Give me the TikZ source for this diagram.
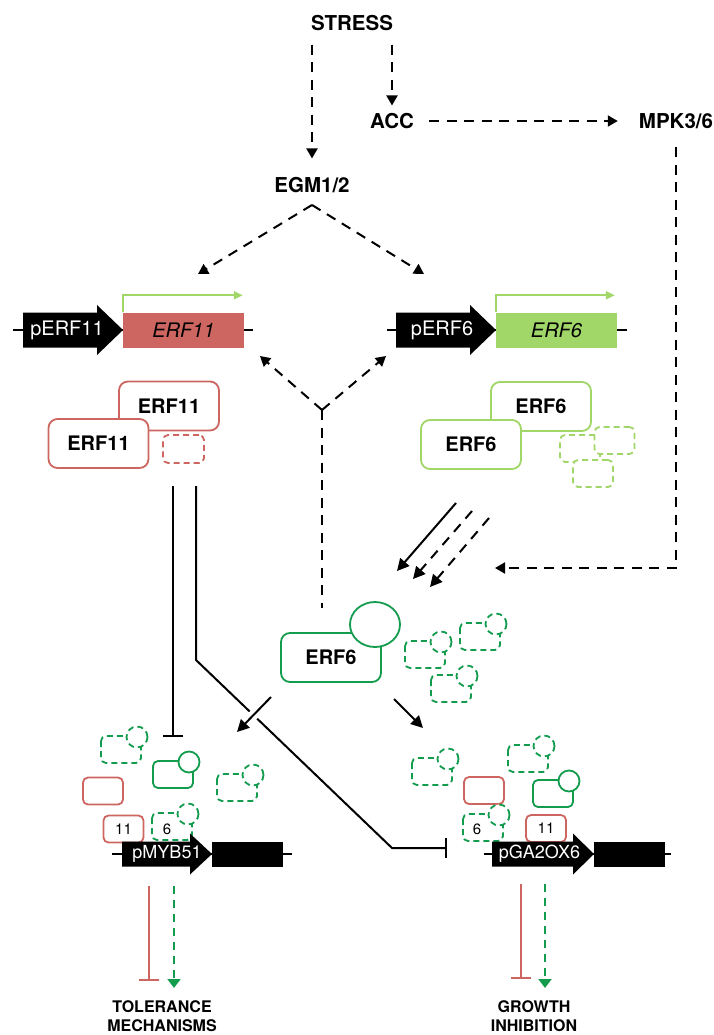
\documentclass[tikz,border=0pt]{standalone}
\usepackage{fontspec}
\setmainfont{TeX Gyre Heros}
\usetikzlibrary{arrows.meta}
\definecolor{ered}{RGB}{205,102,96}
\definecolor{lgreen}{RGB}{161,214,104}
\definecolor{dgreen}{RGB}{20,156,78}
\begin{document}
\begin{tikzpicture}[x=1pt,y=-1pt,
  lbl/.style={inner sep=0pt, font=\fontsize{20.5}{24}\selectfont\bfseries},
  dsh/.style={line width=2pt, dash pattern=on 10pt off 7.5pt},
  tri/.style={-{Triangle[length=10pt,width=11pt]}},
  bigtri/.style={-{Triangle[length=12pt,width=12pt]}},
  tbar/.style={-{Bar[width=20pt,line width=2pt]}},
  prot/.style={draw=#1, line width=1.8pt, rounded corners=9pt, fill=white, minimum width=100pt, minimum height=49pt, inner sep=0pt, font=\fontsize{20}{24}\selectfont\bfseries},
  sbox/.style={draw=#1, line width=1.8pt, rounded corners=5pt, fill=white, minimum width=40pt, minimum height=27pt, inner sep=0pt, font=\fontsize{15}{17}\selectfont},
  sdash/.style={dash pattern=on 6pt off 4pt},
  gene/.style={fill=#1, minimum width=121pt, minimum height=35pt, inner sep=0pt, font=\fontsize{20}{24}\selectfont\itshape},
  ptxt/.style={text=white, inner sep=0pt, font=\fontsize{20}{24}\selectfont},
  btxt/.style={text=white, inner sep=0pt, font=\fontsize{18}{22}\selectfont},
  small/.style={inner sep=0pt, font=\fontsize{15}{17}\selectfont},
  outlbl/.style={inner sep=0pt, align=center, font=\fontsize{16}{19}\selectfont\bfseries},
  icon/.pic={
    \draw[pic actions, rounded corners=5pt, fill=white] (0,0) rectangle (40,27);
    \draw[pic actions, fill=white] (36,1) circle[radius=10.5pt];
  }
]
\useasboundingbox (0,0) rectangle (714,1035);

% ---------- top labels ----------
\node[lbl] (stress) at (352,23) {STRESS};
\node[lbl] (acc) at (392,121) {ACC};
\node[lbl] (mpk) at (676,121) {MPK3/6};
\node[lbl] (egm) at (312,185) {EGM1/2};

\draw[dsh, tri, shorten <=13.6pt, shorten >=18.6pt] (stress.south -| egm.north) -- (egm.north);
\draw[dsh, tri, shorten <=13.6pt, shorten >=7.6pt] (stress.south -| acc.north) -- (acc.north);
\draw[dsh, tri, shorten <=15pt, shorten >=21pt] (acc.east) -- (mpk.west);

\coordinate (apex) at (312,205);
\coordinate (eg11) at (198,274);
\coordinate (eg6) at (424,274);
\draw[dsh, tri] (apex) -- (eg11);
\draw[dsh, tri] (apex) -- (eg6);

% ---------- genes ----------
\draw[line width=1.5pt] (13,330) -- (253,330);
\fill (23,312.5) -- (97,312.5) -- (97,305) -- (123,330) -- (97,355) -- (97,347.5) -- (23,347.5) -- cycle;
\node[ptxt] (p11) at (67,330) {pERF11};
\node[gene=ered] (g11) at (183.5,330) {ERF11};
\draw[lgreen, line width=1.8pt, -{Triangle[length=9pt,width=8pt]}] (g11.north west) -- ++(0,-17) -- ++(120,0);

\draw[line width=1.5pt] (387,330) -- (627,330);
\fill (396,312.5) -- (470,312.5) -- (470,305) -- (496,330) -- (470,355) -- (470,347.5) -- (396,347.5) -- cycle;
\node[ptxt] (p6) at (442,330) {pERF6};
\node[gene=lgreen] (g6) at (556.5,330) {ERF6};
\draw[lgreen, line width=1.8pt, -{Triangle[length=9pt,width=8pt]}] (g6.north west) -- ++(0,-17) -- ++(119,0);

% ---------- Y junction ----------
\coordinate (yj) at (322,410);
\coordinate (y11) at (260,356);
\coordinate (y6) at (386,356);
\coordinate (ybot) at (322,608);
\draw[dsh, tri] (yj) -- (y11);
\draw[dsh, tri] (yj) -- (y6);
\draw[dsh] (yj) -- (ybot);

% ---------- ERF11 proteins ----------
\node[prot=ered] (e11b) at (169,406) {ERF11};
\node[prot=ered] (e11f) at (98.5,443.5) {ERF11};
\node[sbox=ered, sdash, minimum width=41pt, minimum height=28pt] (e11d) at (183.5,449) {};

% ---------- ERF6 proteins ----------
\node[prot=lgreen] (e6b) at (541,406.5) {ERF6};
\node[prot=lgreen] (e6f) at (471,444.5) {ERF6};
\node[sbox=lgreen, sdash] (e6d1) at (580,448.5) {};
\node[sbox=lgreen, sdash] (e6d2) at (614.5,440.5) {};
\node[sbox=lgreen, sdash] (e6d3) at (593,473.5) {};

% ---------- MPK path ----------
\coordinate (mpkc) at (676,568);
\coordinate (mpkend) at (495,568);
\draw[dsh, tri, shorten <=18.6pt] (mpk.south) -- (mpkc) -- (mpkend);

% ---------- three parallel arrows ----------
\coordinate (pa1) at (456,503); \coordinate (pa1e) at (397,571);
\coordinate (pa2) at (472,511); \coordinate (pa2e) at (413,579);
\coordinate (pa3) at (489,518); \coordinate (pa3e) at (430,587);
\draw[line width=2pt, bigtri] (pa1) -- (pa1e);
\draw[dsh, bigtri] (pa2) -- (pa2e);
\draw[dsh, bigtri] (pa3) -- (pa3e);

% ---------- active ERF6 ----------
\node[prot=dgreen] (e6a) at (331,657.5) {ERF6};
\draw[dgreen, line width=1.8pt, fill=white] (375,624.5) ellipse[x radius=25pt, y radius=22.5pt];
\pic[draw=dgreen, line width=1.8pt, sdash] at (405,641) {icon};
\pic[draw=dgreen, line width=1.8pt, sdash] at (460,623) {icon};
\pic[draw=dgreen, line width=1.8pt, sdash] at (431,675) {icon};

% ---------- ERF11 repression lines ----------
\coordinate (l1s) at (173,486); \coordinate (l1e) at (173,737);
\coordinate (l2s) at (196,486); \coordinate (l2a) at (196,660);
\coordinate (l2b) at (392,848); \coordinate (l2e) at (447,848);
\draw[line width=2pt, tbar] (l1s) -- (l1e);
\draw[line width=2pt, tbar] (l2s) -- (l2a) -- (l2b) -- (l2e);

% ---------- ERF6 arrows to promoters ----------
\coordinate (al) at (271,697); \coordinate (ale) at (237,732);
\coordinate (ar) at (394,699); \coordinate (are) at (423,728);
\draw[white, line width=10pt, shorten <=8pt, shorten >=10pt] (al) -- (ale);
\draw[line width=2pt, bigtri] (al) -- (ale);
\draw[line width=2pt, bigtri] (ar) -- (are);

% ---------- pMYB51 cluster ----------
\pic[draw=dgreen, line width=1.8pt, sdash] at (101,736) {icon};
\pic[draw=dgreen, line width=1.8pt] at (153,761) {icon};
\node[sbox=ered] (r1) at (103,791) {};
\pic[draw=dgreen, line width=1.8pt, sdash] at (217,774) {icon};
\node[sbox=ered] (r11a) at (123.5,829) {11};
\pic[draw=dgreen, line width=1.8pt, sdash] at (152,813) {icon};
\node[small] (s6a) at (167,829) {6};
\draw[line width=1.5pt] (112,854) -- (292,854);
\fill (122,841.5) -- (190,841.5) -- (190,833.5) -- (212,854) -- (190,874.5) -- (190,866.5) -- (122,866.5) -- cycle;
\node[fill=black, minimum width=71pt, minimum height=25pt, inner sep=0pt] (myb) at (247.5,854) {};
\node[btxt] (pmyb) at (167,854) {pMYB51};

% ---------- pGA2OX6 cluster ----------
\pic[draw=dgreen, line width=1.8pt, sdash] at (412,758) {icon};
\pic[draw=dgreen, line width=1.8pt, sdash] at (508,745) {icon};
\node[sbox=ered] (r2) at (484,790.5) {};
\pic[draw=dgreen, line width=1.8pt] at (533,780) {icon};
\pic[draw=dgreen, line width=1.8pt, sdash] at (463,814) {icon};
\node[small] (s6b) at (477,829) {6};
\node[sbox=ered] (r11b) at (546,828.5) {11};
\draw[line width=1.5pt] (484,854) -- (671,854);
\fill (492,841.5) -- (573,841.5) -- (573,833.5) -- (594,854) -- (573,874.5) -- (573,866.5) -- (492,866.5) -- cycle;
\node[fill=black, minimum width=71pt, minimum height=25pt, inner sep=0pt] (ga) at (629.5,854) {};
\node[btxt] (pga) at (539.5,854) {pGA2OX6};

% ---------- outputs ----------
\node[outlbl] (tol) at (162,1016) {TOLERANCE\\MECHANISMS};
\node[outlbl] (gro) at (534,1016) {GROWTH\\INHIBITION};
\coordinate (o1r) at (149,886); \coordinate (o1re) at (149,981);
\coordinate (o1g) at (174,886); \coordinate (o1ge) at (174,988);
\coordinate (o2r) at (521,884); \coordinate (o2re) at (521,979);
\coordinate (o2g) at (545,884); \coordinate (o2ge) at (545,988);
\draw[ered, line width=2pt, tbar] (o1r) -- (o1re);
\draw[dgreen, line width=2pt, dash pattern=on 8pt off 6pt, -{Triangle[length=9pt,width=13pt]}] (o1g) -- (o1ge);
\draw[ered, line width=2pt, tbar] (o2r) -- (o2re);
\draw[dgreen, line width=2pt, dash pattern=on 8pt off 6pt, -{Triangle[length=9pt,width=13pt]}] (o2g) -- (o2ge);
\end{tikzpicture}
\end{document}
